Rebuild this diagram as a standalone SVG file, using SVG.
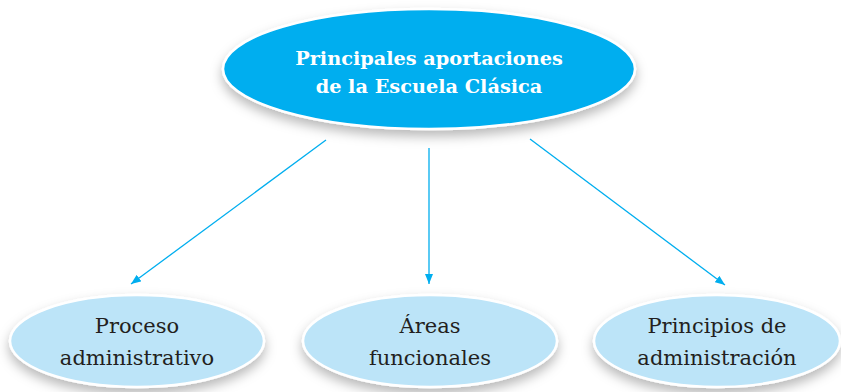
<svg xmlns="http://www.w3.org/2000/svg" width="841" height="392" viewBox="0 0 841 392">
<defs>
<filter id="sh" x="-20%" y="-30%" width="140%" height="170%">
<feDropShadow dx="0" dy="6" stdDeviation="6" flood-color="#000" flood-opacity="0.28"/>
</filter>
<marker id="ah" viewBox="0 0 10 8" refX="10" refY="4" markerWidth="10" markerHeight="8" markerUnits="userSpaceOnUse" orient="auto">
<path d="M0,0 L10,4 L0,8 Z" fill="#00aeef"/>
</marker>
<style>
.main{fill:#00aeef;stroke:#fff;stroke-width:2.5}
.sub{fill:#bce4f8;stroke:#fff;stroke-width:2.5}
.tm{font-family:"DejaVu Serif","Liberation Serif",serif;font-weight:bold;font-size:19.3px;fill:#fff;text-anchor:middle}
.ts{font-family:"DejaVu Serif","Liberation Serif",serif;font-size:21px;fill:#231f20;text-anchor:middle}
.c{stroke:#00aeef;stroke-width:1.3;fill:none;marker-end:url(#ah)}
</style>
</defs>
<rect width="841" height="392" fill="#fff"/>
<g id="connectors">
<line class="c" x1="326" y1="140" x2="131" y2="284"/>
<line class="c" x1="429" y1="148" x2="429" y2="284"/>
<line class="c" x1="530" y1="139" x2="725" y2="285"/>
</g>
<g id="main">
<ellipse class="main" cx="429" cy="69" rx="206" ry="60" filter="url(#sh)"/>
<text class="tm" x="429" y="65">Principales aportaciones</text>
<text class="tm" x="429" y="93">de la Escuela Clásica</text>
</g>
<g id="proceso">
<ellipse class="sub" cx="137" cy="341" rx="127" ry="46" filter="url(#sh)"/>
<text class="ts" x="137" y="333">Proceso</text>
<text class="ts" x="137" y="365">administrativo</text>
</g>
<g id="areas">
<ellipse class="sub" cx="430" cy="341" rx="127" ry="46" filter="url(#sh)"/>
<text class="ts" x="430" y="333">Áreas</text>
<text class="ts" x="430" y="365">funcionales</text>
</g>
<g id="principios">
<ellipse class="sub" cx="717" cy="341" rx="123" ry="46" filter="url(#sh)"/>
<text class="ts" x="717" y="333">Principios de</text>
<text class="ts" x="717" y="365">administración</text>
</g>
</svg>
